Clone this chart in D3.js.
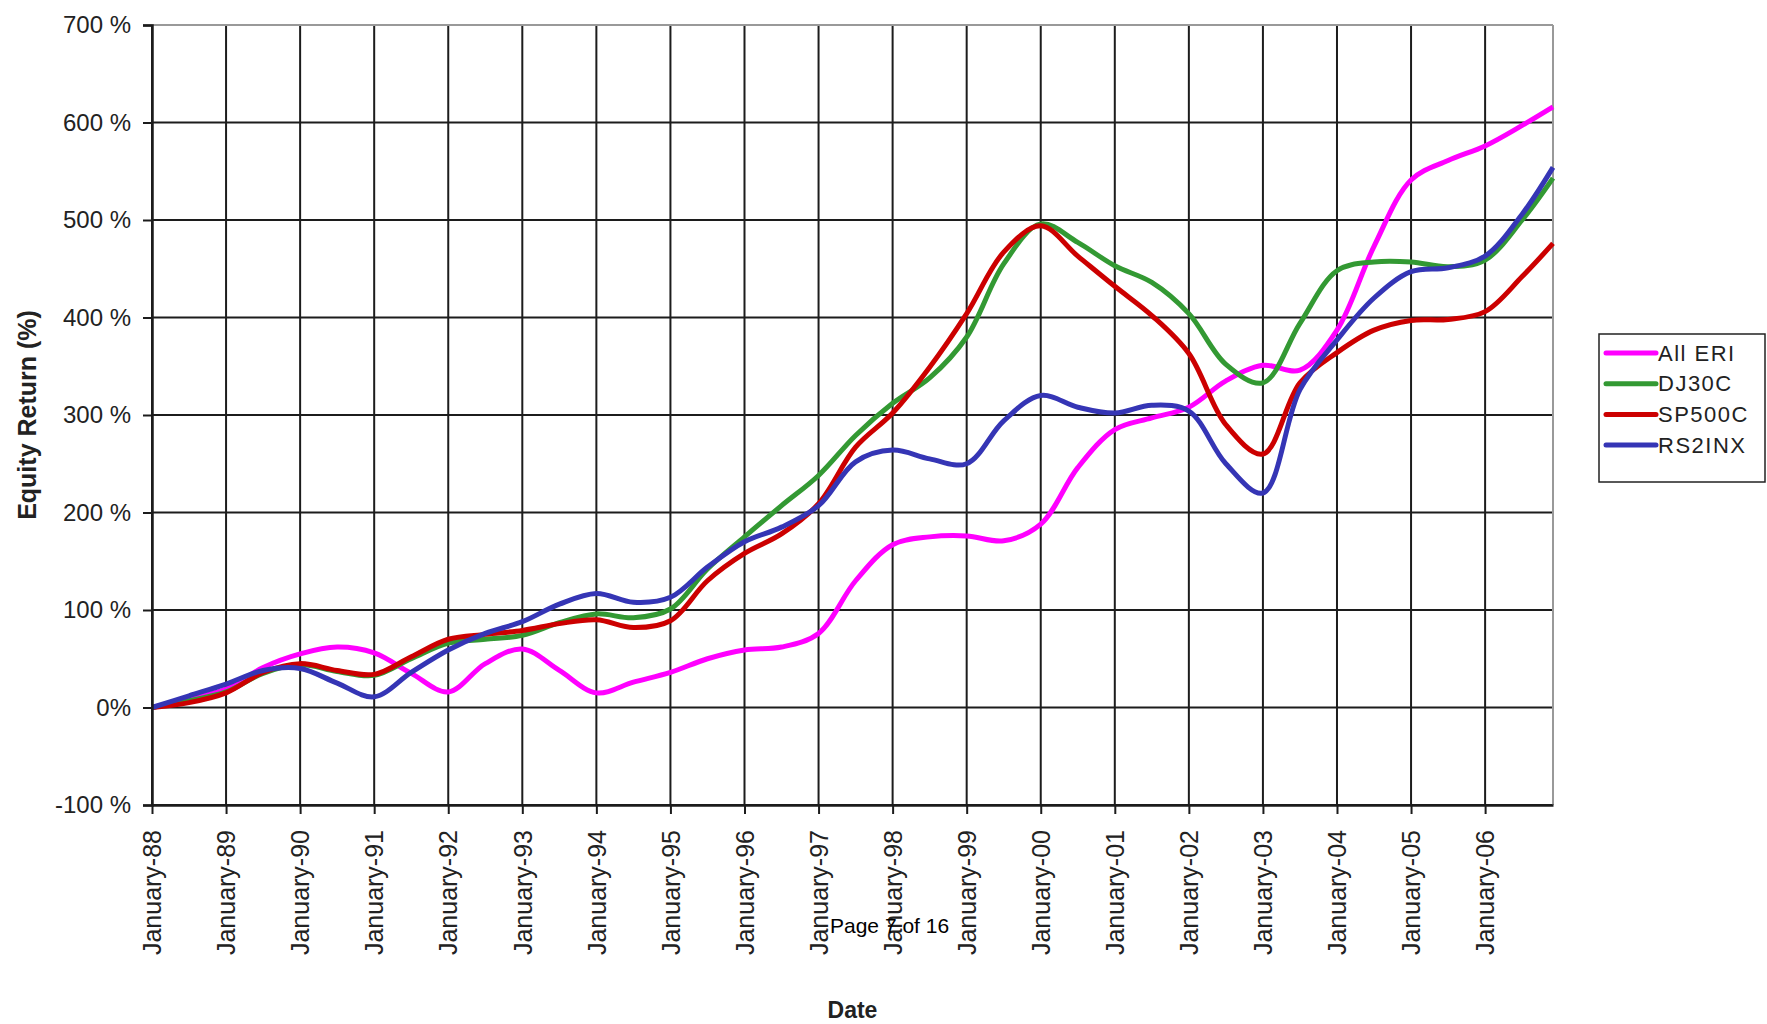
<!DOCTYPE html>
<html>
<head>
<meta charset="utf-8">
<script src="https://cdn.jsdelivr.net/npm/d3@7"></script>
<style>
  body { margin: 0; background: #fff; }
  text { font-family: "Liberation Sans", Arial, sans-serif; fill: #222; }
</style>
</head>
<body>
<div id="chart"></div>
<script>
// months since January 1988, sampled every half year, last point is Dec-06
var months = [0, 6, 12, 18, 24, 30, 36, 42, 48, 54, 60, 66, 72, 78, 84, 90, 96, 102, 108, 114,
  120, 126, 132, 138, 144, 150, 156, 162, 168, 174, 180, 186, 192, 198, 204, 210, 216, 222, 227];

var allEri = [0, 9, 19, 41, 55, 62, 56, 35, 16, 45, 60, 38, 15, 26, 36, 50, 59, 62, 76, 130,
  167, 175, 176, 171, 188, 246, 285, 297, 308, 335, 351, 346, 387, 473, 541, 561, 576, 597, 616];
var dj30c = [0, 7, 16, 35, 44, 37, 33, 50, 66, 70, 74, 87, 96, 92, 101, 142, 175, 207, 238, 279,
  312, 338, 380, 455, 496, 477, 453, 436, 404, 352, 333, 394, 448, 457, 457, 452, 459, 500, 543];
var sp500c = [0, 5, 15, 36, 45, 38, 34, 52, 70, 75, 79, 86, 90, 82, 89, 130, 158, 178, 209, 267,
  302, 349, 404, 467, 494, 463, 432, 402, 363, 290, 260, 333, 364, 387, 397, 398, 406, 442, 476];
var rs2inx = [0, 12, 24, 38, 40, 25, 11, 36, 59, 76, 88, 106, 117, 108, 113, 144, 170, 185, 207, 252,
  264, 255, 250, 294, 320, 308, 302, 310, 304, 250, 220, 326, 377, 420, 447, 451, 463, 506, 554];

var seriesNames = ["All ERI", "DJ30C", "SP500C", "RS2INX"];
var seriesColors = ["#ff00ff", "#339933", "#cc0000", "#3535b5"];
var seriesValues = [allEri, dj30c, sp500c, rs2inx];

var yTicks = [-100, 0, 100, 200, 300, 400, 500, 600, 700];
var yTickLabels = ["-100 %", "0%", "100 %", "200 %", "300 %", "400 %", "500 %", "600 %", "700 %"];
var xTickMonths = d3.range(0, 217, 12);
var xTickLabels = ["January-88", "January-89", "January-90", "January-91", "January-92", "January-93",
  "January-94", "January-95", "January-96", "January-97", "January-98", "January-99", "January-00",
  "January-01", "January-02", "January-03", "January-04", "January-05", "January-06"];

var W = 1767, H = 1024;
var plot = {left: 152, right: 1553, top: 25, bottom: 805};

var svg = d3.select("#chart").append("svg")
    .attr("width", W)
    .attr("height", H);

var x = d3.scaleLinear()
    .domain([0, 227])
    .range([plot.left, plot.right]);

var y = d3.scaleLinear()
    .domain([-100, 700])
    .range([plot.bottom, plot.top]);

// grid
var grid = svg.append("g").attr("class", "grid");
grid.selectAll(".vgrid")
    .data(xTickMonths)
    .enter().append("line")
    .attr("x1", function(d) { return x(d); })
    .attr("x2", function(d) { return x(d); })
    .attr("y1", plot.top)
    .attr("y2", plot.bottom)
    .style("stroke", "#1c1c1c")
    .style("stroke-width", 2);

grid.selectAll(".hgrid")
    .data(yTicks)
    .enter().append("line")
    .attr("x1", plot.left)
    .attr("x2", plot.right)
    .attr("y1", function(d) { return y(d); })
    .attr("y2", function(d) { return y(d); })
    .style("stroke", function(d) { return d === 700 ? "#999" : "#1c1c1c"; })
    .style("stroke-width", 2);

// right border
svg.append("line")
    .attr("x1", plot.right).attr("x2", plot.right)
    .attr("y1", plot.top).attr("y2", plot.bottom)
    .style("stroke", "#999")
    .style("stroke-width", 2);

// series
var line = d3.line()
    .x(function(d) { return x(d[0]); })
    .y(function(d) { return y(d[1]); })
    .curve(d3.curveCatmullRom.alpha(0.5));

svg.append("g").selectAll(".series")
    .data(seriesValues)
    .enter().append("path")
    .attr("class", "series")
    .attr("d", function(vals) { return line(months.map(function(m, i) { return [m, vals[i]]; })); })
    .style("fill", "none")
    .style("stroke", function(d, i) { return seriesColors[i]; })
    .style("stroke-width", 5)
    .style("stroke-linejoin", "round");

// axes
var yAxis = d3.axisLeft(y)
    .tickValues(yTicks)
    .tickSize(9)
    .tickPadding(12)
    .tickFormat(function(d, i) { return yTickLabels[i]; });

var gy = svg.append("g")
    .attr("transform", "translate(" + plot.left + ",0)")
    .call(yAxis);
gy.select(".domain").style("stroke", "#1c1c1c").style("stroke-width", 2.5);
gy.selectAll(".tick line").style("stroke", "#1c1c1c").style("stroke-width", 2);
gy.selectAll(".tick text")
    .style("font-size", "24px")
    .style("font-family", "Liberation Sans, Arial, sans-serif")
    .style("fill", "#222");

var xAxis = d3.axisBottom(x)
    .tickValues(xTickMonths)
    .tickSize(9)
    .tickSizeOuter(0)
    .tickFormat(function(d, i) { return xTickLabels[i]; });

var gx = svg.append("g")
    .attr("transform", "translate(0," + plot.bottom + ")")
    .call(xAxis);
gx.select(".domain").style("stroke", "#1c1c1c").style("stroke-width", 2.5);
gx.selectAll(".tick line").style("stroke", "#1c1c1c").style("stroke-width", 2);
gx.selectAll(".tick text")
    .attr("transform", "rotate(-90)")
    .attr("x", -25)
    .attr("y", 0)
    .attr("dy", "0.35em")
    .attr("text-anchor", "end")
    .style("font-size", "25px")
    .style("font-family", "Liberation Sans, Arial, sans-serif")
    .style("fill", "#222");

// axis titles
svg.append("text")
    .attr("transform", "translate(36," + ((plot.top + plot.bottom) / 2) + ") rotate(-90)")
    .attr("text-anchor", "middle")
    .style("font-size", "25px")
    .style("font-weight", "bold")
    .text("Equity Return (%)");

svg.append("text")
    .attr("x", (plot.left + plot.right) / 2)
    .attr("y", 1018)
    .attr("text-anchor", "middle")
    .style("font-size", "23px")
    .style("font-weight", "bold")
    .text("Date");

svg.append("text")
    .attr("x", 830)
    .attr("y", 933)
    .style("font-size", "21px")
    .style("fill", "#000")
    .text("Page 7 of 16");

// legend
var legend = svg.append("g").attr("transform", "translate(1599,334)");
legend.append("rect")
    .attr("width", 166)
    .attr("height", 148)
    .style("fill", "#fff")
    .style("stroke", "#222")
    .style("stroke-width", 1.5);

var item = legend.selectAll(".item")
    .data(seriesNames)
    .enter().append("g")
    .attr("class", "item")
    .attr("transform", function(d, i) { return "translate(0," + (19 + i * 30.7) + ")"; });

item.append("line")
    .attr("x1", 7).attr("x2", 57)
    .style("stroke", function(d, i) { return seriesColors[i]; })
    .style("stroke-width", 5)
    .style("stroke-linecap", "round");

item.append("text")
    .attr("x", 59)
    .attr("dy", "0.35em")
    .style("font-size", "22px")
    .style("letter-spacing", "1.5px")
    .text(function(d) { return d; });
</script>
</body>
</html>
